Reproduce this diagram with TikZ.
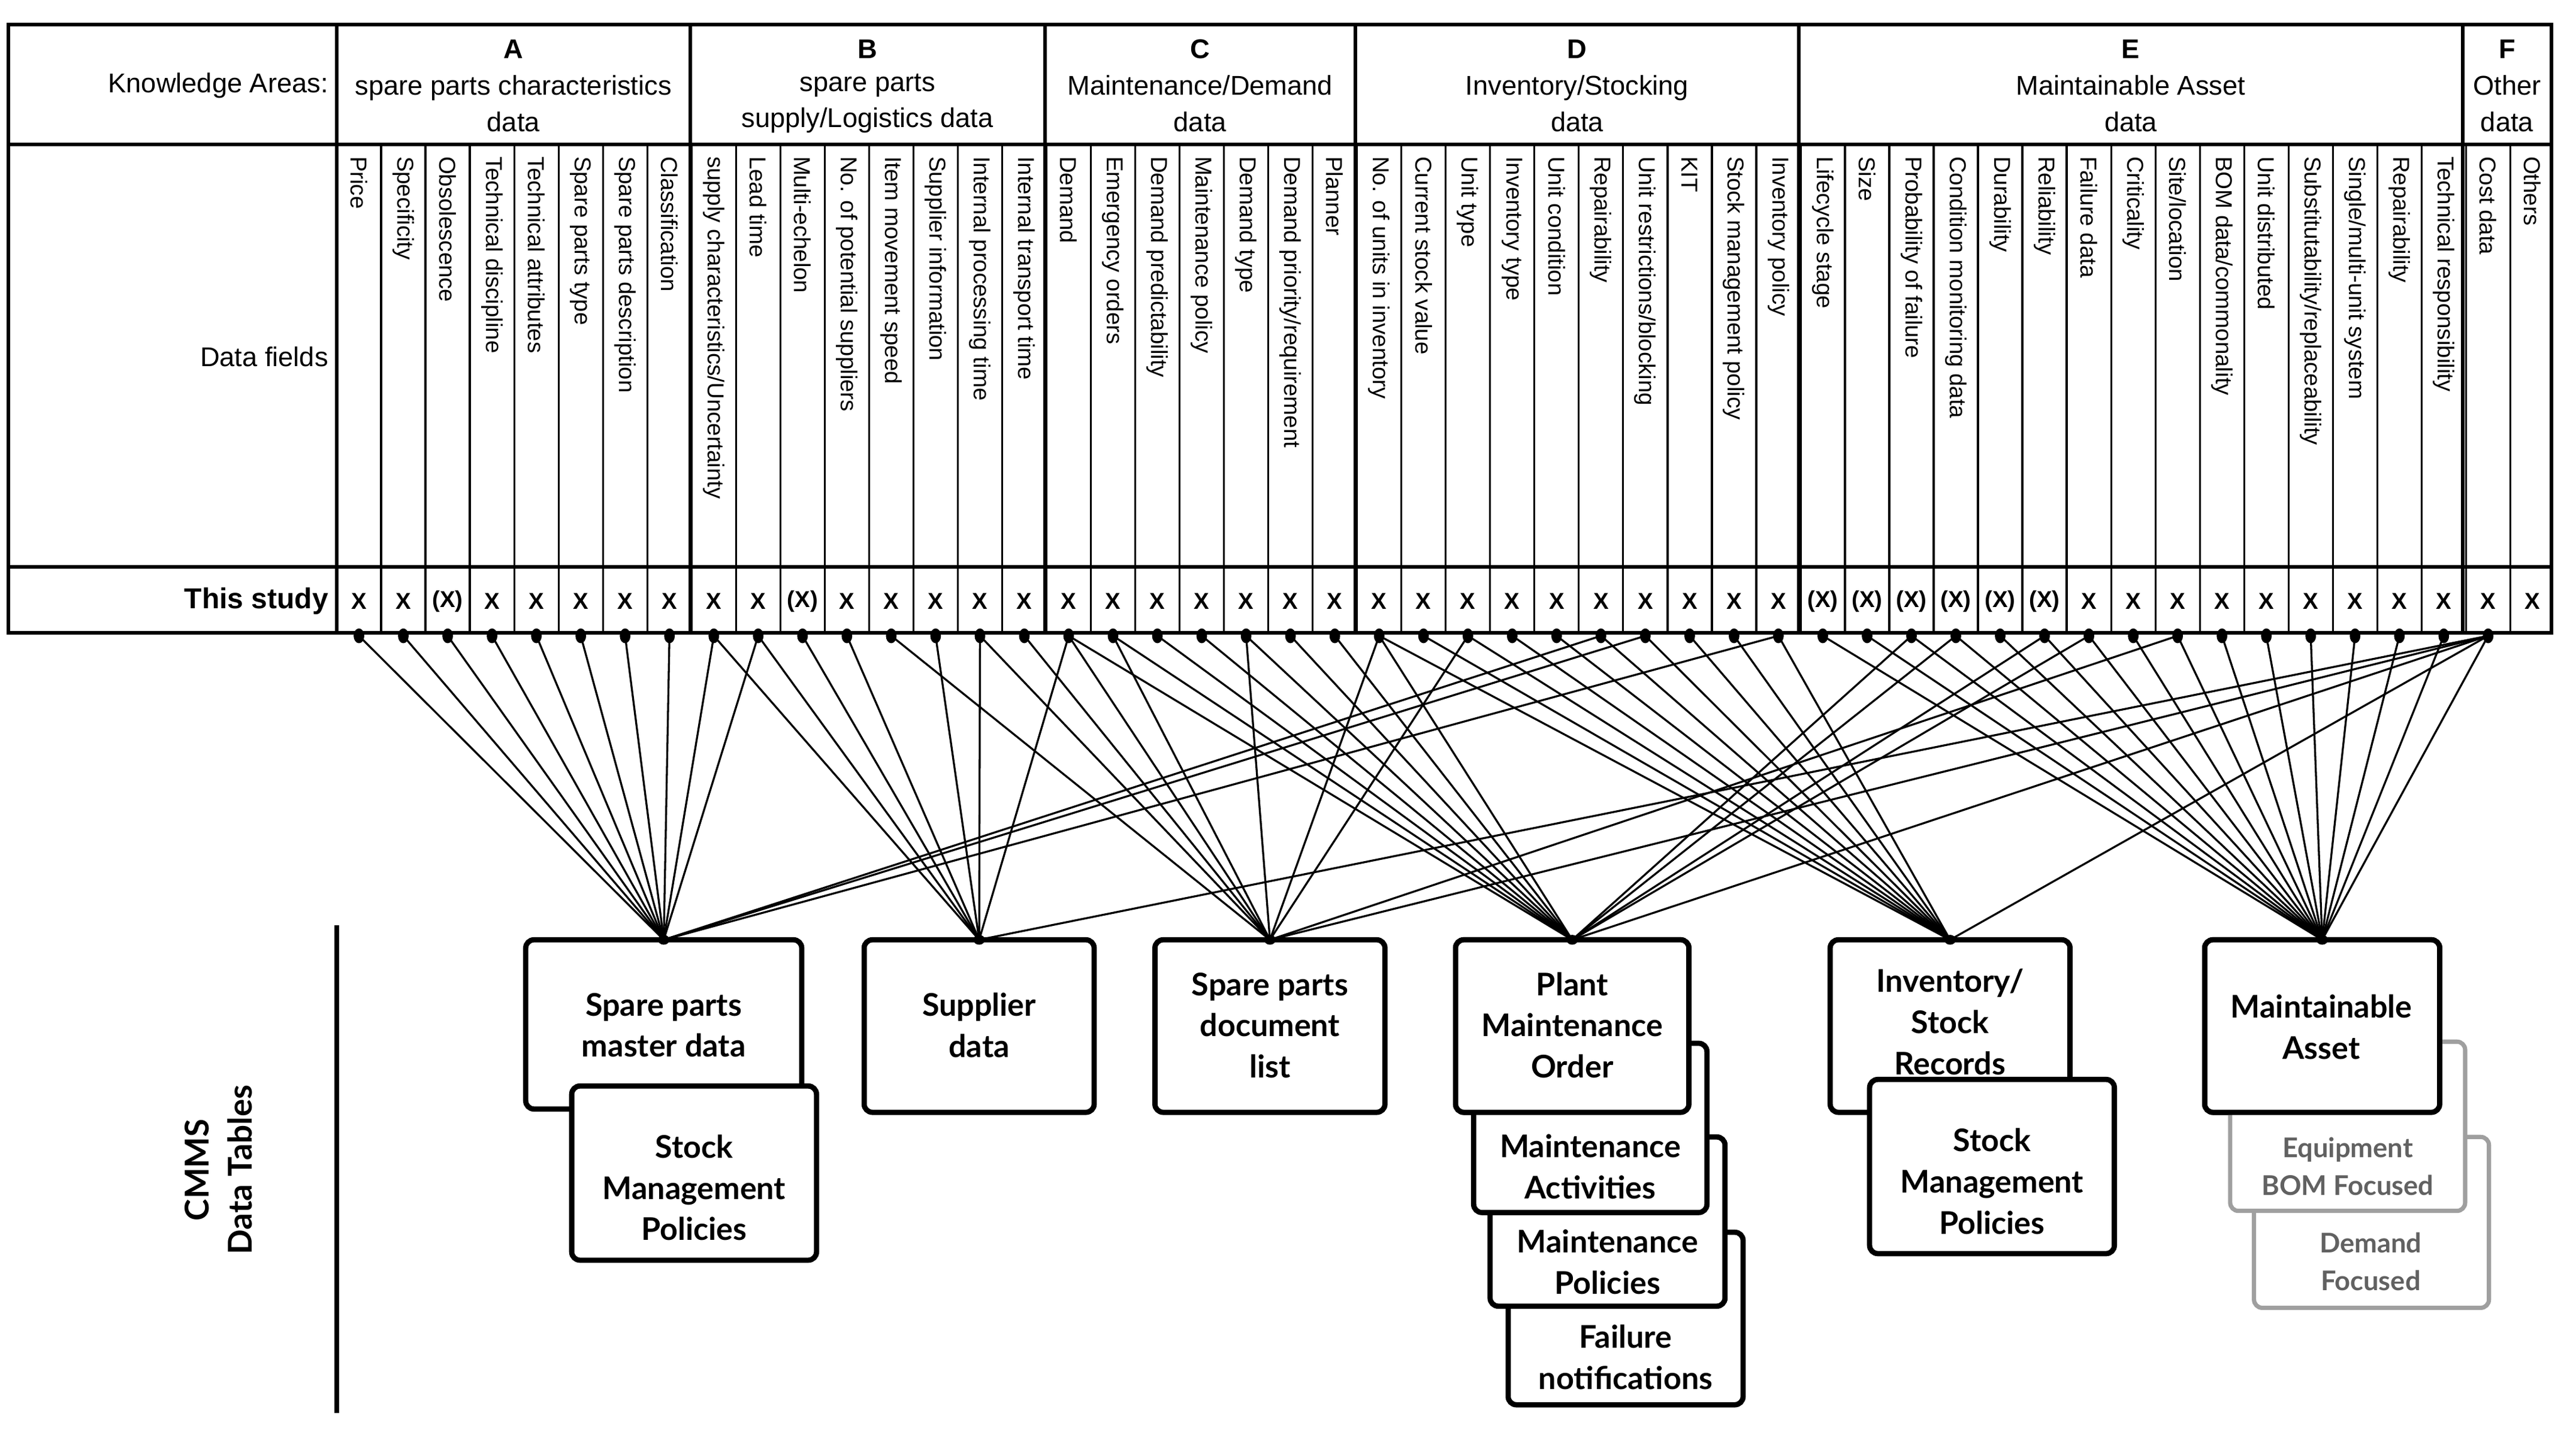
\documentclass[tikz,border=0pt]{standalone}
\usepackage{fontspec}
\usetikzlibrary{shapes.geometric}
\setmainfont{Liberation Sans}
\newfontfamily\bxf{Lato}
\begin{document}
\begin{tikzpicture}[x=1pt,y=-1pt,
  tline/.style={line width=2.2pt},
  cline/.style={line width=1.2pt},
  dot/.style={ellipse,fill=black,inner sep=0,minimum width=6.5pt,minimum height=9pt},
  conn/.style={line width=1.2pt},
  box/.style={draw,line width=3.2pt,rounded corners=5pt,fill=white,inner sep=0,outer sep=0,anchor=north west},
  gbox/.style={box,draw=gray!75,line width=2.6pt},
  btext/.style={font=\bxf\bfseries\fontsize{19}{25}\selectfont,align=center,inner sep=0},
  gtext/.style={btext,text=black!62,font=\bxf\bfseries\fontsize{16.5}{23}\selectfont},
  htext/.style={font=\fontsize{16.5}{22}\selectfont,align=center,inner sep=0},
  hbold/.style={htext,font=\bfseries\fontsize{16.5}{18}\selectfont},
  vtext/.style={font=\fontsize{14}{16}\selectfont,rotate=-90,anchor=west,inner sep=0},
  xtext/.style={font=\bfseries\fontsize{14}{16}\selectfont,inner sep=0}]
\useasboundingbox (0,0) rectangle (1568,878);
% connectors
\foreach \i in {1,...,49} \node[dot] (d\i) at ({205+27*(\i-0.5)},387) {};
\node[box,minimum width=168pt,minimum height=103pt] (M) at (320,572) {};
\node[box,minimum width=140pt,minimum height=105pt] (S) at (526,572) {};
\node[box,minimum width=140pt,minimum height=105pt] (L) at (703,572) {};
\node[box,minimum width=142pt,minimum height=105pt] (P) at (886,572) {};
\node[box,minimum width=146pt,minimum height=105pt] (I) at (1114,572) {};
\node[box,minimum width=143pt,minimum height=105pt] (A) at (1342,572) {};
\foreach \i in {1,...,10,29,30,33} \draw[conn] (d\i.center) -- (M.north);
\foreach \i in {9,10,11,12,14,15,17,49} \draw[conn] (d\i.center) -- (S.north);
\foreach \i in {13,15,16,17,18,21,24,26,42,49} \draw[conn] (d\i.center) -- (L.north);
\foreach \i in {17,...,24,36,37,39,40,49} \draw[conn] (d\i.center) -- (P.north);
\foreach \i in {24,...,33,49} \draw[conn] (d\i.center) -- (I.north);
\foreach \i in {34,...,49} \draw[conn] (d\i.center) -- (A.north);
% table
\draw[tline] (5,15) rectangle (1553,385);
\draw[tline] (5,88) -- (1553,88);
\draw[tline] (5,345) -- (1553,345);
\foreach \x in {205,420,636,825,1095,1499} \draw[tline] (\x,15) -- (\x,385);
\foreach \i in {1,...,49} \draw[cline] ({205+27*\i},88) -- ({205+27*\i},385);
\node[htext,anchor=east] (ka) at (200,52) {Knowledge Areas:};
\node[htext,anchor=east] (df) at (200,217) {Data fields};
\node[htext,anchor=east,font=\bfseries\fontsize{17.5}{18}\selectfont] (ts) at (200,366) {This study};
\node[hbold] (hA) at (312.5,30) {A};
\node[htext] (hA2) at (312.5,63) {spare parts characteristics\\data};
\node[hbold] (hB) at (528,30) {B};
\node[htext] (hB2) at (528,63) {spare parts\\supply/Logistics data};
\node[hbold] (hC) at (730.5,30) {C};
\node[htext] (hC2) at (730.5,63) {Maintenance/Demand\\data};
\node[hbold] (hD) at (960,30) {D};
\node[htext] (hD2) at (960,63) {Inventory/Stocking\\data};
\node[hbold] (hE) at (1297,30) {E};
\node[htext] (hE2) at (1297,63) {Maintainable Asset\\data};
\node[hbold] (hF) at (1526,30) {F};
\node[htext] (hF2) at (1526,63) {Other\\data};
\foreach \t [count=\i] in {Price,Specificity,Obsolescence,Technical discipline,Technical attributes,Spare parts type,Spare parts description,Classification,supply characteristics/Uncertainty,Lead time,Multi-echelon,No. of potential suppliers,Item movement speed,Supplier information,Internal processing time,Internal transport time,Demand,Emergency orders,Demand predictability,Maintenance policy,Demand type,Demand priority/requirement,Planner,No. of units in inventory,Current stock value,Unit type,Inventory type,Unit condition,Repairability,Unit restrictions/blocking,KIT,Stock management policy,Inventory policy,Lifecycle stage,Size,Probability of failure,Condition monitoring data,Durability,Reliability,Failure data,Criticality,Site/location,BOM data/commonality,Unit distributed,Substitutability/replaceability,Single/multi-unit system,Repairability,Technical responsibility,Cost data,Others}
  \node[vtext] (f\i) at ({205+27*(\i-0.5)},95) {\t};
\foreach \t [count=\i] in {X,X,(X),X,X,X,X,X,X,X,(X),X,X,X,X,X,X,X,X,X,X,X,X,X,X,X,X,X,X,X,X,X,X,(X),(X),(X),(X),(X),(X),X,X,X,X,X,X,X,X,X,X,X}
  \node[xtext] (x\i) at ({205+27*(\i-0.5)},366) {\t};
% stacked boxes (back to front)
\node[box,minimum width=143pt,minimum height=105pt] (FN) at (918,750) {};
\node[btext] (FNt) at (989.5,826) {Failure\\notifications};
\node[box,minimum width=143pt,minimum height=103pt] (MP) at (907,692) {};
\node[btext] (MPt) at (978.5,768) {Maintenance\\Policies};
\node[box,minimum width=142pt,minimum height=103pt] (MA) at (897,635) {};
\node[btext] (MAt) at (968,710) {Maintenance\\Activities};
\node[box,minimum width=142pt,minimum height=105pt] (P2) at (886,572) {};
\node[btext] (Pt) at (957,624) {Plant\\Maintenance\\Order};
\node[btext] (Mt) at (404,624) {Spare parts\\master data};
\node[box,minimum width=149pt,minimum height=106pt] (SMP) at (348,661) {};
\node[btext] (SMPt) at (422.5,723) {Stock\\Management\\Policies};
\node[btext] (St) at (596,624) {Supplier\\data};
\node[btext] (Lt) at (773,624) {Spare parts\\document\\list};
\node[btext] (It) at (1187,622) {Inventory/\\Stock\\Records};
\node[box,minimum width=149pt,minimum height=106pt] (SMP2) at (1138,657) {};
\node[btext] (SMP2t) at (1212.5,719) {Stock\\Management\\Policies};
\node[gbox,minimum width=143pt,minimum height=104pt] (DF) at (1372,692) {};
\node[gtext] (DFt) at (1443,768) {Demand\\Focused};
\node[gbox,minimum width=143pt,minimum height=103pt] (EB) at (1357.5,634) {};
\node[gtext] (EBt) at (1429,710) {Equipment\\BOM Focused};
\node[box,minimum width=143pt,minimum height=105pt] (A2) at (1342,572) {};
\node[btext] (At) at (1413,625) {Maintainable\\Asset};
\foreach \n in {M,S,L,P,I,A} \node[dot,minimum width=7pt,minimum height=6pt] at (\n.north) {};
% side label
\draw[line width=3pt] (205,563) -- (205,860);
\node[btext,rotate=90,font=\bxf\bfseries\fontsize{20}{26}\selectfont] (cm) at (133,712) {CMMS\\Data Tables};
\end{tikzpicture}
\end{document}
